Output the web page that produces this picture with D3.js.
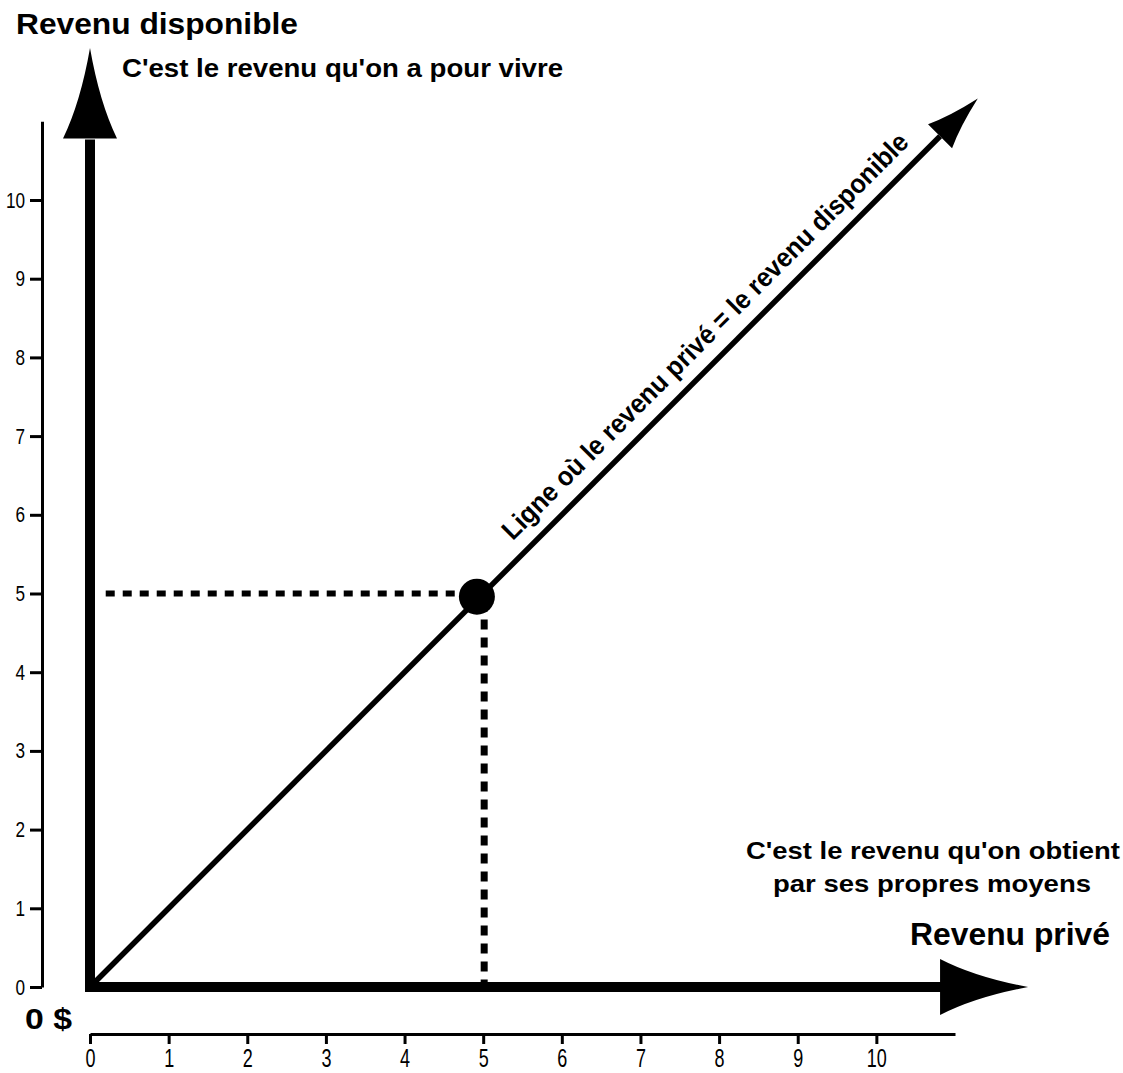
<!DOCTYPE html>
<html>
<head>
<meta charset="utf-8">
<script src="https://cdn.jsdelivr.net/npm/d3@7/dist/d3.min.js"></script>
<style>
  html, body { margin: 0; padding: 0; background: #fff; }
  svg { display: block; }
  text { font-family: "Liberation Sans", Arial, Helvetica, sans-serif; fill: #000; }
</style>
</head>
<body>
<script>
// ---------- data ----------
const xTicks = [0, 1, 2, 3, 4, 5, 6, 7, 8, 9, 10];
const yTicks = [0, 1, 2, 3, 4, 5, 6, 7, 8, 9, 10];
const axisDomain = [0, 11];
const identityLine = [[0, 0], [10.81, 10.81]];     // revenu privé = revenu disponible
const identityArrowTip = [11.29, 11.29];
const pointValue = { x: 4.92, y: 4.96 };
const guideValue = 5;
const yAxisArrow = { base: 10.78, tip: 11.93 };
const xAxisArrow = { base: 10.81, tip: 11.93 };

const titleY = "Revenu disponible";
const subtitleY = "C'est le revenu qu'on a pour vivre";
const titleX = "Revenu privé";
const subtitleX = ["C'est le revenu qu'on obtient", "par ses propres moyens"];
const originLabel = "0 $";
const diagonalLabel = "Ligne où le revenu privé = le revenu disponible";

// ---------- setup ----------
const W = 1123, H = 1073;
const svg = d3.select("body").append("svg").attr("width", W).attr("height", H);

const x = d3.scaleLinear().domain(axisDomain).range([90, 955]);
const y = d3.scaleLinear().domain(axisDomain).range([987, 121.3]);

// condense text horizontally (narrow-font look)
function condense(sel, factor) {
  sel.each(function () {
    const len = this.getComputedTextLength();
    d3.select(this).attr("textLength", len * factor).attr("lengthAdjust", "spacingAndGlyphs");
  });
}

// concave arrowhead pointing "up" in local coords: tip at (0,0), base at y=L
function arrowPath(L, w, k) {
  return `M0,0 Q${w * k},${L * 0.6} ${w},${L} L${-w},${L} Q${-w * k},${L * 0.6} 0,0 Z`;
}

// ---------- thin scale axes ----------
const yAxis = d3.axisLeft(y).tickValues(yTicks).tickSize(12).tickSizeOuter(0).tickPadding(5)
  .tickFormat(d3.format("d"));
const gy = svg.append("g").attr("transform", "translate(42,0)").call(yAxis);
gy.attr("font-family", null).attr("font-size", null);
gy.select(".domain").attr("stroke-width", 3);
gy.selectAll(".tick line").attr("stroke-width", 3);
gy.selectAll(".tick text").style("font-size", "22px").attr("fill", "#000").call(condense, 0.78);

const xAxis = d3.axisBottom(x).tickValues(xTicks).tickSize(10).tickSizeOuter(0).tickPadding(5)
  .tickFormat(d3.format("d"));
const gx = svg.append("g").attr("transform", "translate(0,1034)").call(xAxis);
gx.attr("font-family", null).attr("font-size", null);
gx.select(".domain").attr("stroke-width", 3);
gx.selectAll(".tick line").attr("stroke-width", 3);
gx.selectAll(".tick text").style("font-size", "25px").attr("fill", "#000").call(condense, 0.72);
svg.selectAll(".domain, .tick line").attr("stroke", "#000");

// ---------- thick axes with arrows ----------
svg.append("line")
  .attr("x1", x(0)).attr("x2", x(0))
  .attr("y1", y(0) + 5).attr("y2", y(yAxisArrow.base) + 1)
  .attr("stroke", "#000").attr("stroke-width", 10);
svg.append("path")
  .attr("d", arrowPath(y(yAxisArrow.base) - y(yAxisArrow.tip), 27, 0.35))
  .attr("transform", `translate(${x(0)},${y(yAxisArrow.tip)})`)
  .attr("fill", "#000");

svg.append("line")
  .attr("x1", x(0) - 2).attr("x2", x(xAxisArrow.base) + 1)
  .attr("y1", y(0)).attr("y2", y(0))
  .attr("stroke", "#000").attr("stroke-width", 10);
svg.append("path")
  .attr("d", arrowPath(x(xAxisArrow.tip) - x(xAxisArrow.base), 28, 0.35))
  .attr("transform", `translate(${x(xAxisArrow.tip)},${y(0)}) rotate(90)`)
  .attr("fill", "#000");

// ---------- dashed guides ----------
svg.append("line")
  .attr("x1", x(0.2)).attr("x2", x(guideValue) - 8)
  .attr("y1", y(guideValue)).attr("y2", y(guideValue))
  .attr("stroke", "#000").attr("stroke-width", 6).attr("stroke-dasharray", "9,8");
svg.append("line")
  .attr("x1", x(guideValue) + 1).attr("x2", x(guideValue) + 1)
  .attr("y1", y(guideValue) + 8).attr("y2", y(0) - 5)
  .attr("stroke", "#000").attr("stroke-width", 7).attr("stroke-dasharray", "10,8");

// ---------- identity line ----------
const line = d3.line().x(d => x(d[0])).y(d => y(d[1]));
svg.append("path").datum(identityLine).attr("d", line)
  .attr("fill", "none").attr("stroke", "#000").attr("stroke-width", 5.5);
const tipX = x(identityArrowTip[0]), tipY = y(identityArrowTip[1]);
const baseX = x(identityLine[1][0]), baseY = y(identityLine[1][1]);
const diagL = Math.hypot(tipX - baseX, tipY - baseY);
svg.append("path")
  .attr("d", arrowPath(diagL, 17, 0.42))
  .attr("transform", `translate(${tipX},${tipY}) rotate(45)`)
  .attr("fill", "#000");

// point
svg.append("circle")
  .attr("cx", x(pointValue.x)).attr("cy", y(pointValue.y)).attr("r", 18)
  .attr("fill", "#000");

// diagonal label
svg.append("text")
  .attr("transform", `translate(${x(5.52)},${y(5.52)}) rotate(-45)`)
  .attr("x", 0).attr("y", -16)
  .attr("font-weight", "bold").attr("font-size", 27)
  .attr("fill", "#1a1a1a")
  .attr("textLength", 562).attr("lengthAdjust", "spacingAndGlyphs")
  .text(diagonalLabel);

// ---------- titles ----------
svg.append("text").attr("font-weight", "bold")
  .attr("x", 16).attr("y", 34).attr("font-size", 30)
  .attr("textLength", 282).attr("lengthAdjust", "spacingAndGlyphs")
  .text(titleY);
svg.append("text").attr("font-weight", "bold")
  .attr("x", 122).attr("y", 77).attr("font-size", 26)
  .attr("textLength", 441).attr("lengthAdjust", "spacingAndGlyphs")
  .text(subtitleY);

svg.append("text").attr("font-weight", "bold")
  .attr("x", 746).attr("y", 859).attr("font-size", 24)
  .attr("textLength", 374).attr("lengthAdjust", "spacingAndGlyphs")
  .text(subtitleX[0]);
svg.append("text").attr("font-weight", "bold")
  .attr("x", 773).attr("y", 892).attr("font-size", 24)
  .attr("textLength", 318).attr("lengthAdjust", "spacingAndGlyphs")
  .text(subtitleX[1]);
svg.append("text").attr("font-weight", "bold")
  .attr("x", 910).attr("y", 945).attr("font-size", 32)
  .attr("textLength", 200).attr("lengthAdjust", "spacingAndGlyphs")
  .text(titleX);
svg.append("text").attr("font-weight", "bold")
  .attr("x", 25).attr("y", 1029).attr("font-size", 29)
  .attr("textLength", 47).attr("lengthAdjust", "spacingAndGlyphs")
  .text(originLabel);
</script>
</body>
</html>
